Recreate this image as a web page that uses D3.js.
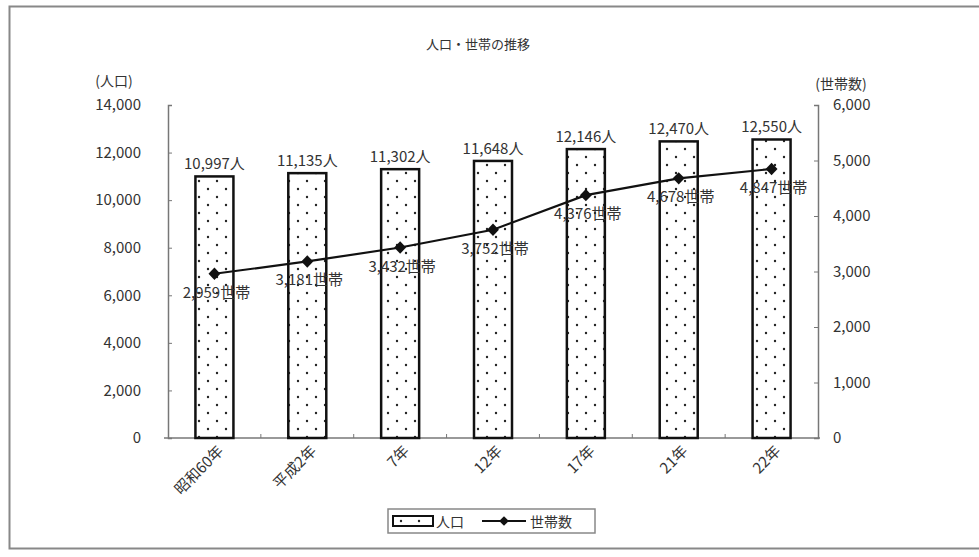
<!DOCTYPE html>
<html>
<head>
<meta charset="utf-8">
<script src="https://cdn.jsdelivr.net/npm/d3@7"></script>
<style>
  body { margin: 0; background: #fff; }
  text { font-family: "Noto Sans CJK JP", "Noto Sans", sans-serif; fill: #333; }
</style>
</head>
<body>
<div class="chart"></div>
<script>
// chart data
const years = ['昭和60年', '平成2年', '7年', '12年', '17年', '21年', '22年'];
const population = [10997, 11135, 11302, 11648, 12146, 12470, 12550];
const households = [2959, 3181, 3432, 3752, 4376, 4678, 4847];
const popTicks = [0, 2000, 4000, 6000, 8000, 10000, 12000, 14000];
const hhTicks = [0, 1000, 2000, 3000, 4000, 5000, 6000];

const W = 979, H = 557;
const margin = ({top: 105, right: 161, bottom: 119, left: 168});
const width = W - margin.left - margin.right;
const height = H - margin.top - margin.bottom;

const root = d3.select('.chart')
  .append('svg')
  .attr('width', W)
  .attr('height', H);

// dotted fill for bars
const defs = root.append('defs');
const pat = defs.append('pattern')
  .attr('id', 'dots')
  .attr('patternUnits', 'userSpaceOnUse')
  .attr('width', 18)
  .attr('height', 16);
pat.append('rect').attr('width', 18).attr('height', 16).attr('fill', '#fff');
pat.append('circle').attr('cx', 4).attr('cy', 4).attr('r', 1.2).attr('fill', '#222');
pat.append('circle').attr('cx', 13).attr('cy', 12).attr('r', 1.2).attr('fill', '#222');

// outer frame
root.append('path')
  .attr('d', `M${W + 5},6.5 H9.5 V548.5 H${W + 5}`)
  .attr('fill', 'none')
  .attr('stroke', '#888')
  .attr('stroke-width', 2);

const svg = root.append('g')
  .attr('transform', `translate(${margin.left},${margin.top})`);

const xScale = d3.scaleBand()
  .domain(years)
  .range([0, width]);

const yLeft = d3.scaleLinear().domain([0, 14000]).range([height, 0]);
const yRight = d3.scaleLinear().domain([0, 6000]).range([height, 0]);

const fmt = d3.format(',');

// left axis
const leftAxis = svg.append('g')
  .call(d3.axisLeft(yLeft).tickValues(popTicks).tickSize(-4).tickFormat(fmt).tickPadding(27));
leftAxis.select('.domain').attr('stroke', '#777').attr('stroke-width', 1.5);
leftAxis.selectAll('.tick line').attr('stroke', '#777');
leftAxis.selectAll('text').attr('font-size', 15).attr('fill', '#444');

// right axis
const rightAxis = svg.append('g')
  .attr('transform', `translate(${width},0)`)
  .call(d3.axisRight(yRight).tickValues(hhTicks).tickSize(-4).tickFormat(fmt).tickPadding(15));
rightAxis.select('.domain').attr('stroke', '#777').attr('stroke-width', 1.5);
rightAxis.selectAll('.tick line').attr('stroke', '#777');
rightAxis.selectAll('text').attr('font-size', 15).attr('fill', '#444');

// bottom axis line with ticks between categories
svg.append('line')
  .attr('x1', -4).attr('x2', width + 2)
  .attr('y1', height).attr('y2', height)
  .attr('stroke', '#777').attr('stroke-width', 1.5);
svg.selectAll('.xtick')
  .data(years.slice(1))
  .enter()
  .append('line')
  .attr('x1', d => xScale(d)).attr('x2', d => xScale(d))
  .attr('y1', height).attr('y2', height - 4)
  .attr('stroke', '#777');

// category labels
svg.selectAll('.xlab')
  .data(years)
  .enter()
  .append('text')
  .attr('text-anchor', 'end')
  .attr('font-size', 15)
  .attr('fill', '#444')
  .attr('transform', d => `translate(${xScale(d) + xScale.bandwidth() / 2 + 10},${height + 14}) rotate(-45)`)
  .text(d => d);

// bars
const barW = 38;
svg.selectAll('rect.bar')
  .data(population)
  .enter()
  .append('rect')
  .attr('class', 'bar')
  .attr('x', (d, i) => xScale(years[i]) + xScale.bandwidth() / 2 - barW / 2)
  .attr('y', d => yLeft(d))
  .attr('width', barW)
  .attr('height', d => height - yLeft(d))
  .attr('fill', 'url(#dots)')
  .attr('stroke', '#111')
  .attr('stroke-width', 2.5);

svg.selectAll('.plab')
  .data(population)
  .enter()
  .append('text')
  .attr('x', (d, i) => xScale(years[i]) + xScale.bandwidth() / 2)
  .attr('y', d => yLeft(d) - 7)
  .attr('text-anchor', 'middle')
  .attr('font-size', 15)
  .attr('fill', '#444')
  .text(d => fmt(d) + '人');

// household line
const cx = (d, i) => xScale(years[i]) + xScale.bandwidth() / 2;
const line = d3.line()
  .x(cx)
  .y(d => yRight(d));

svg.append('path')
  .datum(households)
  .attr('d', line)
  .attr('fill', 'none')
  .attr('stroke', '#111')
  .attr('stroke-width', 2.2);

svg.selectAll('.marker')
  .data(households)
  .enter()
  .append('path')
  .attr('d', d3.symbol(d3.symbolDiamond2, 90))
  .attr('transform', (d, i) => `translate(${cx(d, i)},${yRight(d)}) scale(1,1.05)`)
  .attr('fill', '#111');

svg.selectAll('.hlab')
  .data(households)
  .enter()
  .append('text')
  .attr('x', (d, i) => cx(d, i) + 2)
  .attr('y', d => yRight(d) + 24)
  .attr('text-anchor', 'middle')
  .attr('font-size', 15)
  .attr('fill', '#444')
  .text(d => fmt(d) + '世帯');

// titles
root.append('text')
  .attr('x', 478).attr('y', 49)
  .attr('text-anchor', 'middle')
  .attr('font-size', 13)
  .text('人口・世帯の推移');

root.append('text')
  .attr('x', 114).attr('y', 86)
  .attr('text-anchor', 'middle')
  .attr('font-size', 14)
  .attr('fill', '#444')
  .text('(人口)');

root.append('text')
  .attr('x', 841).attr('y', 89)
  .attr('text-anchor', 'middle')
  .attr('font-size', 14)
  .attr('fill', '#444')
  .text('(世帯数)');

// legend
const lg = root.append('g').attr('transform', 'translate(388,509)');
lg.append('rect')
  .attr('width', 207).attr('height', 24)
  .attr('fill', '#fff')
  .attr('stroke', '#888').attr('stroke-width', 1.5);
lg.append('rect')
  .attr('x', 5).attr('y', 7).attr('width', 40).attr('height', 10)
  .attr('fill', 'url(#dots)')
  .attr('stroke', '#111').attr('stroke-width', 2);
lg.append('text')
  .attr('x', 48).attr('y', 18)
  .attr('font-size', 14)
  .text('人口');
lg.append('line')
  .attr('x1', 94).attr('x2', 138).attr('y1', 12).attr('y2', 12)
  .attr('stroke', '#111').attr('stroke-width', 2);
lg.append('path')
  .attr('d', d3.symbol(d3.symbolDiamond2, 60))
  .attr('transform', 'translate(116,12)')
  .attr('fill', '#111');
lg.append('text')
  .attr('x', 142).attr('y', 18)
  .attr('font-size', 14)
  .text('世帯数');
</script>
</body>
</html>
